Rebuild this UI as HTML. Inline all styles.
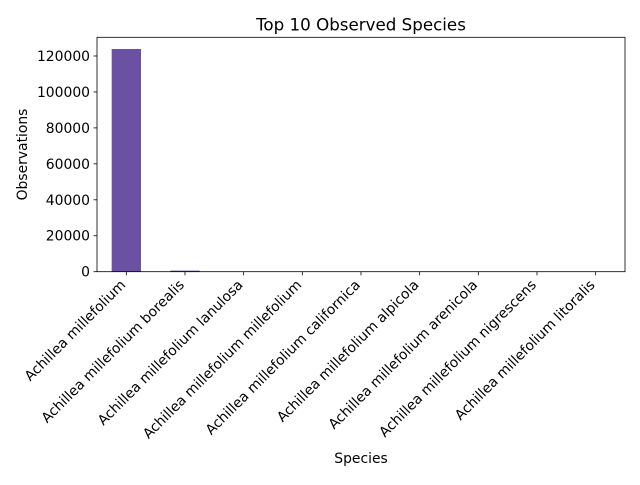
<!DOCTYPE html>
<html><head><meta charset="utf-8"><style>
body{margin:0;background:#fff;font-family:"Liberation Sans","DejaVu Sans",sans-serif}
svg text{font-family:"DejaVu Sans","Liberation Sans",sans-serif}
</style></head><body>
<svg id="chart" width="640" height="480" xmlns="http://www.w3.org/2000/svg"></svg>
<script>
const categories=["Achillea millefolium","Achillea millefolium borealis","Achillea millefolium lanulosa","Achillea millefolium millefolium","Achillea millefolium californica","Achillea millefolium alpicola","Achillea millefolium arenicola","Achillea millefolium nigrescens","Achillea millefolium litoralis"];
const values=[123900,600,40,30,20,15,10,8,5];
const yTicks=[0,20000,40000,60000,80000,100000,120000];
const yTickLabels=["0","20000","40000","60000","80000","100000","120000"];
const svg=document.getElementById('chart');
const NS='http://www.w3.org/2000/svg';
const L=97,R=625,T=37.3,B=271.7,YMAX=130400;
const x=i=>L+(i+0.5)*(R-L)/categories.length;
const y=v=>B-v/YMAX*(B-T);
function mk(tag,a,txt){const e=document.createElementNS(NS,tag);for(const k in a)e.setAttribute(k,a[k]);if(txt!==undefined)e.textContent=txt;svg.appendChild(e);return e;}
const bw=0.5*(R-L)/categories.length;
values.forEach((v,i)=>{
 const r=mk('rect',{x:x(i)-bw/2,y:y(v),width:bw,height:B-y(v),fill:'#6a51a3'});
 
 
});
yTicks.forEach((t,i)=>{
 const l=mk('line',{x1:L-3.5,x2:L,y1:y(t),y2:y(t),stroke:'#000','stroke-width':0.8});
 
 
 const tx=mk('text',{x:L-7,y:y(t)+5,'font-size':13.9,'text-anchor':'end'},yTickLabels[i]);
 
 
});
categories.forEach((c,i)=>{
 const l=mk('line',{x1:x(i),x2:x(i),y1:B,y2:B+3.5,stroke:'#000','stroke-width':0.8});
 
 
 const tx=mk('text',{x:x(i),y:B+14,'font-size':13.9,'text-anchor':'end',transform:`rotate(-45 ${x(i)} ${B+14})`},c);
 
 
});
const f=mk('rect',{x:L,y:T,width:R-L,height:B-T,fill:'none',stroke:'#000','stroke-width':0.8});


const t1=mk('text',{x:(L+R)/2,y:T-7,'font-size':16.7,'text-anchor':'middle'},'Top 10 Observed Species');


const t2=mk('text',{x:(L+R)/2,y:463,'font-size':13.9,'text-anchor':'middle'},'Species');


const t3=mk('text',{x:27,y:(T+B)/2,'font-size':13.9,'text-anchor':'middle',transform:`rotate(-90 27 ${(T+B)/2})`},'Observations');


</script>
</body></html>
